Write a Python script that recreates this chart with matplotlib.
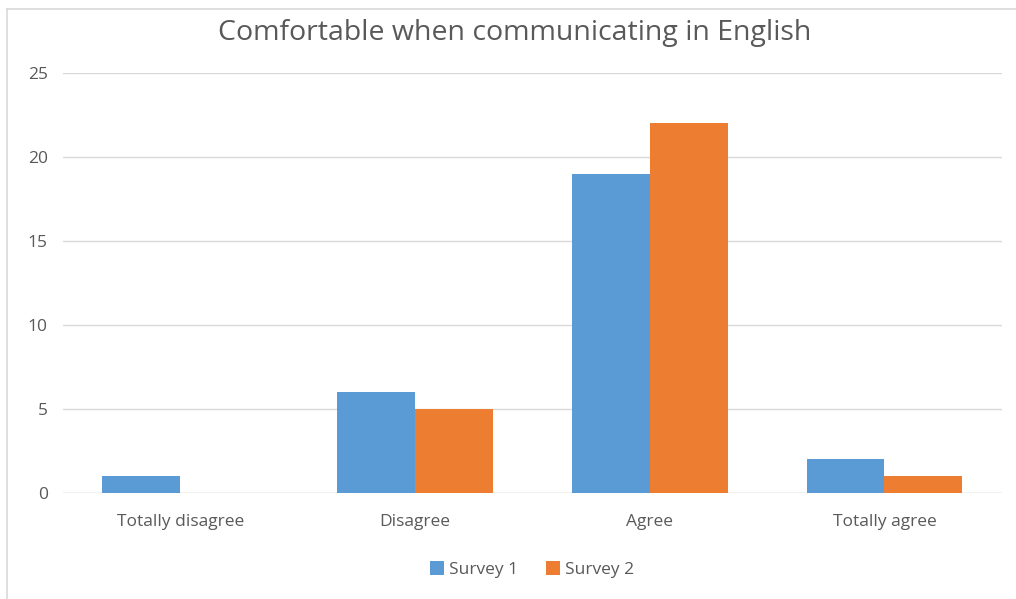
import matplotlib.pyplot as plt
from matplotlib.lines import Line2D
import numpy as np

categories = ["Totally disagree", "Disagree", "Agree", "Totally agree"]
survey1 = [1, 6, 19, 2]
survey2 = [0, 5, 22, 1]
series_names = ["Survey 1", "Survey 2"]
colors = ["#5B9BD5", "#ED7D31"]

plt.rcParams['font.family'] = ['Open Sans', 'DejaVu Sans']
text_color = "#595959"

fig = plt.figure(figsize=(10.16, 5.99), dpi=100)
ax = fig.add_axes([0.062, 0.177, 0.924, 0.701])

x = np.arange(len(categories))
w = 0.332
ax.bar(x - w / 2, survey1, w, color=colors[0], label=series_names[0], zorder=3)
ax.bar(x + w / 2, survey2, w, color=colors[1], label=series_names[1], zorder=3)

ax.set_xlim(-0.5, len(categories) - 0.5)
ax.set_ylim(0, 25)
ax.set_yticks(range(0, 26, 5))
ax.set_xticks(x)
ax.set_xticklabels(categories)
ax.grid(axis="y", color="#D9D9D9", linewidth=1, zorder=0)
ax.tick_params(axis="both", length=0, colors=text_color, labelsize=12.5)
ax.tick_params(axis="x", pad=15)
ax.tick_params(axis="y", pad=11)
for s in ax.spines.values():
    s.set_visible(False)
ax.axhline(0, color="#D9D9D9", linewidth=1, zorder=2)

fig.text(0.507, 0.945, "Comfortable when communicating in English",
         ha="center", va="center", fontsize=20.5, color=text_color)

ax.legend(loc="center", bbox_to_anchor=(0.5, -0.183), ncol=2, frameon=False,
          fontsize=12.5, labelcolor=text_color, handlelength=0.8, handleheight=0.8,
          handletextpad=0.3, columnspacing=1.6)

# light outer border (top and left edges visible)
fig.add_artist(Line2D([7 / 1016, 7 / 1016], [0, 1 - 9 / 599], color="#D9D9D9", lw=1.2,
                      transform=fig.transFigure))
fig.add_artist(Line2D([7 / 1016, 1], [1 - 9 / 599, 1 - 9 / 599], color="#D9D9D9", lw=1.2,
                      transform=fig.transFigure))

fig.savefig("out.png", dpi=100)
